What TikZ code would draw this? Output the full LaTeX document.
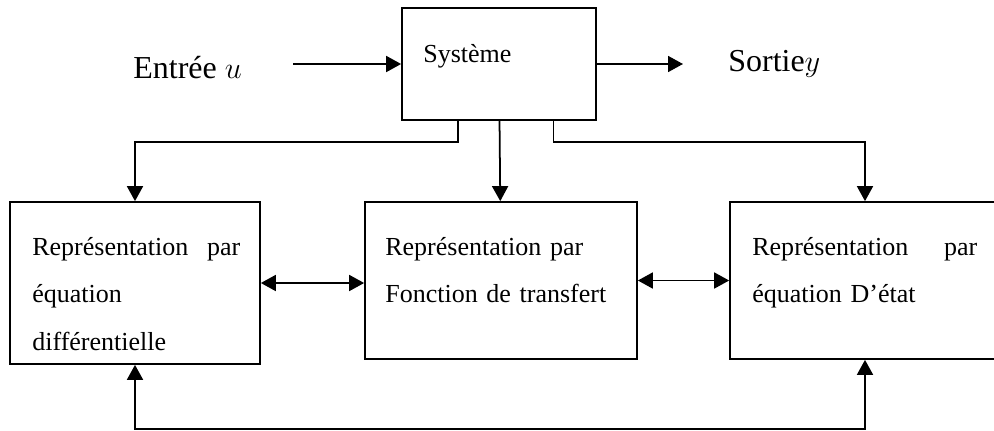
\documentclass[tikz,border=0pt]{standalone}
\usepackage{fontspec}
\setmainfont{Liberation Serif}
\usetikzlibrary{arrows.meta}

\begin{document}
\begin{tikzpicture}[x=0.02cm,y=-0.02cm,
bloc/.style={draw,line width=1pt,inner sep=0pt},
txt/.style={anchor=base west,inner sep=0pt,font=\fontsize{14.8}{27.3}\selectfont},
grand/.style={anchor=base west,inner sep=0pt,font=\fontsize{18.2}{22}\selectfont},
fl/.style={line width=1pt,-{Triangle[length=0.3cm,width=0.32cm]}},
fl2/.style={line width=1pt,{Triangle[length=0.3cm,width=0.32cm]}-{Triangle[length=0.3cm,width=0.32cm]}}]
\useasboundingbox (0,0) rectangle (994,430);
\clip (0,0) rectangle (994,430);
\node[bloc,minimum width=3.88cm,minimum height=2.24cm] (sys) at (499,64) {};
\node[bloc,minimum width=5cm,minimum height=3.24cm] (de) at (135,283) {};
\node[bloc,minimum width=5.44cm,minimum height=3.14cm] (tf) at (501,280.5) {};
\node[bloc,minimum width=5.4cm,minimum height=3.14cm] (ee) at (865,280.5) {};
\node[grand] (entree) at (133,78) {Entrée $u$};
\node[grand] (sortie) at (728,71) {Sortie$y$};
\node[txt] (systxt) at (423,62) {Système};
\node[txt,text width=4.16cm] (detxt) at (32,255) {Représentation\hfill par\\équation\\différentielle};
\node[txt,text width=4.6cm] (tftxt) at (385,255) {Représentation par\\Fonction de transfert};
\node[txt,text width=4.5cm] (eetxt) at (752,255) {Représentation\hfill par\\équation D’état};
\coordinate (u0) at (293,64);
\coordinate (y0) at (683,64);
\path[draw,fl] (u0) -- (sys);
\path[draw,fl] (sys) -- (y0);
\path[draw,fl] ([xshift=-0.82cm]sys.south) -- ++(0,21) -| (de);
\path[draw,fl] (sys) -- (tf);
\path[draw,fl] ([xshift=1.09cm]sys.south) -- ++(0,21) -| (ee);
\path[draw,fl2] (de.east) -- (tf.west |- de.east);
\path[draw,fl2] (tf) -- (ee);
\path[draw,fl2] (de.south) -- ++(0,64) -| (ee.south);
\end{tikzpicture}
\end{document}
